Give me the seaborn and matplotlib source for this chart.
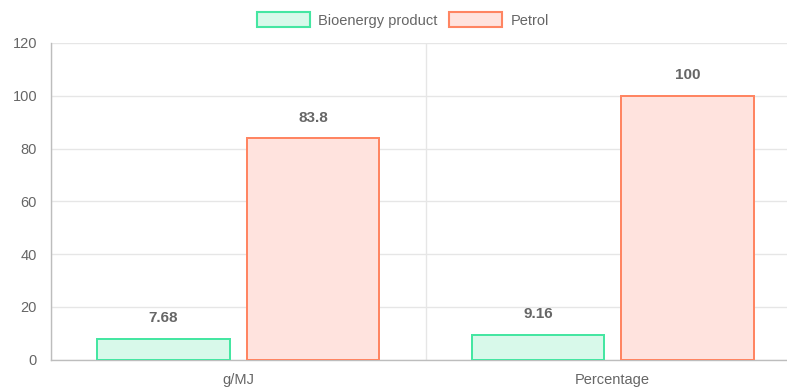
import matplotlib
matplotlib.use("Agg")
import matplotlib.pyplot as plt
import seaborn as sns
import pandas as pd
from matplotlib.patches import Patch

# Values per unit and fuel type
categories = ["g/MJ", "Percentage"]
series_names = ["Bioenergy product", "Petrol"]
bioenergy = [7.68, 9.16]
petrol = [83.8, 100]
y_ticks = [0, 20, 40, 60, 80, 100, 120]

edge_colors = {"Bioenergy product": "#45e6a2", "Petrol": "#ff8562"}
fill_colors = {"Bioenergy product": "#d8f9ea", "Petrol": "#ffe3de"}

df = pd.DataFrame({
    "category": categories * 2,
    "series": [series_names[0]] * len(categories) + [series_names[1]] * len(categories),
    "value": bioenergy + petrol,
})

sns.set_style("white")
plt.rcParams["font.family"] = ["Liberation Sans", "DejaVu Sans"]
text_color = "#666666"
grid_color = "#e6e6e6"
axis_color = "#bdbdbd"

W, H = 787, 390
fig = plt.figure(figsize=(W / 100, H / 100), dpi=100)
x0, x1, y_top, y_bot = 51, 800, 43, 359.5
ax = fig.add_axes([x0 / W, (H - y_bot) / H, (x1 - x0) / W, (y_bot - y_top) / H])

sns.barplot(data=df, x="category", y="value", hue="series", order=categories,
            hue_order=series_names, palette=fill_colors, width=0.8, gap=0.115,
            linewidth=2 * 72 / 100, ax=ax, legend=False, zorder=3)

# outline each bar in its series colour and print its value above it
for cont, name in zip(ax.containers, series_names):
    for patch in cont:
        patch.set_edgecolor(edge_colors[name])
        patch.set_facecolor(fill_colors[name])
    ax.bar_label(cont, labels=[f"{v:g}" for v in cont.datavalues], padding=10,
                 fontsize=11, fontweight="bold", color=text_color)

ax.set_xlim(-0.5, 1.5)
ax.set_ylim(0, 120)
ax.set_yticks(y_ticks)
ax.set_xlabel("")
ax.set_ylabel("")

# category boundaries as vertical grid lines, labels centred between them
ax.set_xticks([-0.5, 0.5, 1.5])
ax.set_xticklabels([])
ax.set_xticks([0, 1], minor=True)
ax.set_xticklabels(categories, minor=True)
ax.tick_params(axis="x", which="major", length=9.5, width=1, color=grid_color, direction="out")
ax.tick_params(axis="x", which="minor", length=0, pad=10, labelsize=10.5, labelcolor=text_color)
ax.tick_params(axis="y", length=7.5, width=1, color=grid_color, pad=2.5,
               labelsize=10.5, labelcolor=text_color)

ax.grid(True, which="major", axis="both", color=grid_color, linewidth=1, zorder=0)
ax.set_axisbelow(True)
for side in ["top", "right"]:
    ax.spines[side].set_visible(False)
for side in ["left", "bottom"]:
    ax.spines[side].set_color(axis_color)
    ax.spines[side].set_linewidth(1)

# legend across the top
handles = [Patch(facecolor=fill_colors[n], edgecolor=edge_colors[n], linewidth=1.5) for n in series_names]
fig.legend(handles, series_names, loc="center", bbox_to_anchor=(403 / W, 1 - 20 / H),
           ncol=2, frameon=False, fontsize=10.5, labelcolor=text_color,
           handlelength=3.6, handleheight=1.2, handletextpad=0.6, columnspacing=0.8)

fig.savefig("out.png", dpi=100)
